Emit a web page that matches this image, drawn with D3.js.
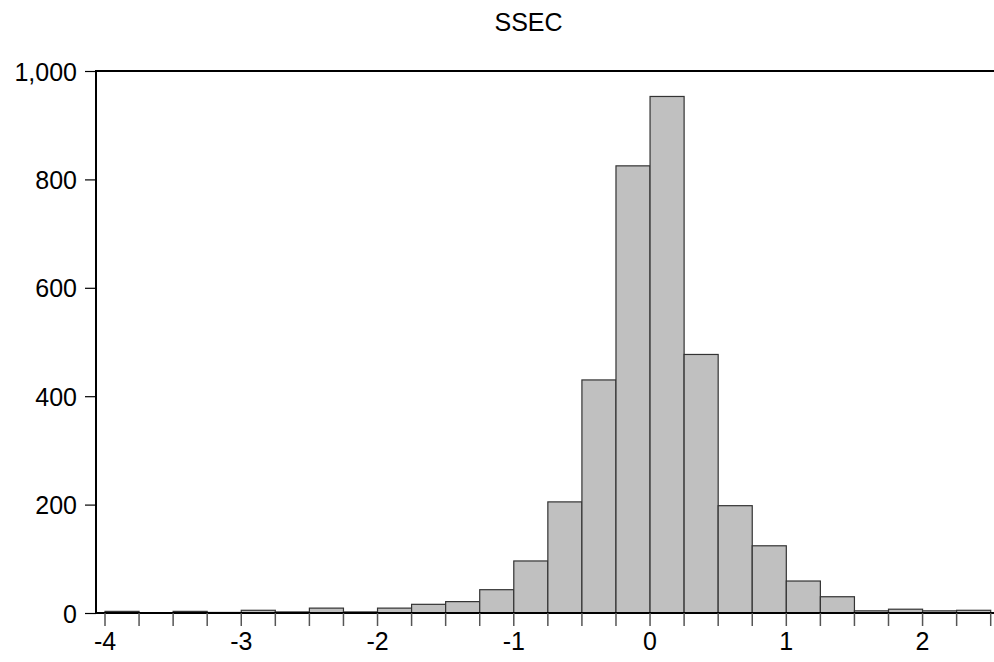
<!DOCTYPE html>
<html>
<head>
<meta charset="utf-8">
<script src="https://cdn.jsdelivr.net/npm/d3@7"></script>
<style>
  body { margin: 0; background: #fff; }
  text { font-family: "Liberation Sans", Arial, sans-serif; fill: #000; }
</style>
</head>
<body>
<svg id="chart" width="994" height="662"></svg>
<script>
// histogram bins: left edges, width 0.25
var binStart = -4;
var binWidth = 0.25;
var counts = [3, 0, 3, 1, 5, 2, 9, 2, 9, 16, 21, 43, 96, 205, 430, 825, 953, 477, 198, 124, 59, 30, 4, 7, 4, 5];
var yTicks = [0, 200, 400, 600, 800, 1000];
var xTicks = [-4, -3, -2, -1, 0, 1, 2];
var title = "SSEC";

(function () {
  var svg = d3.select("#chart");
  var plotLeft = 96, plotRight = 994, plotTop = 71, plotBottom = 613;
  var fontSize = "25px";

  var x = d3.scaleLinear().domain([-4, 2.5]).range([105, 990.7]);
  var y = d3.scaleLinear().domain([0, 1000]).range([plotBottom, plotTop]);

  var bins = counts.map(function (c, i) {
    return { x0: binStart + i * binWidth, x1: binStart + (i + 1) * binWidth, n: c };
  });

  // bars
  svg.append("g").selectAll("rect").data(bins).enter().append("rect")
    .attr("x", function (d) { return x(d.x0); })
    .attr("width", function (d) { return x(d.x1) - x(d.x0); })
    .attr("y", function (d) { return y(d.n); })
    .attr("height", function (d) { return plotBottom - y(d.n); })
    .style("fill", "#c0c0c0")
    .style("stroke", "#333")
    .style("stroke-width", 1.2);

  // frame: left axis, top and bottom lines
  svg.append("line").attr("x1", plotLeft).attr("x2", plotLeft).attr("y1", plotTop).attr("y2", plotBottom)
    .style("stroke", "#000").style("stroke-width", 2);
  svg.append("line").attr("x1", plotLeft - 1).attr("x2", plotRight).attr("y1", plotTop).attr("y2", plotTop)
    .style("stroke", "#000").style("stroke-width", 2);
  svg.append("line").attr("x1", plotLeft - 1).attr("x2", plotRight).attr("y1", plotBottom).attr("y2", plotBottom)
    .style("stroke", "#000").style("stroke-width", 2);

  // y axis
  var yAxis = d3.axisLeft(y).tickValues(yTicks).tickSize(11).tickPadding(8)
    .tickFormat(d3.format(","));
  var gy = svg.append("g").attr("transform", "translate(" + plotLeft + ",0)").call(yAxis);
  gy.select(".domain").remove();
  gy.selectAll(".tick line").style("stroke", "#000").style("stroke-width", 1.2);
  gy.selectAll(".tick text").style("font-size", fontSize).attr("dy", "0.36em")
    .style("font-family", "'Liberation Sans', Arial, sans-serif");

  // x axis: minor ticks at every bin edge, labels on integers
  var edges = d3.range(counts.length + 1).map(function (i) { return binStart + i * binWidth; });
  svg.append("g").selectAll("line").data(edges).enter().append("line")
    .attr("x1", function (d) { return x(d); })
    .attr("x2", function (d) { return x(d); })
    .attr("y1", plotBottom)
    .attr("y2", plotBottom + 13)
    .style("stroke", "#555")
    .style("stroke-width", 1.5);
  svg.append("g").selectAll("text").data(xTicks).enter().append("text")
    .attr("x", function (d) { return x(d); })
    .attr("y", 650)
    .attr("text-anchor", "middle")
    .style("font-size", fontSize)
    .text(function (d) { return d; });

  // title
  svg.append("text").attr("x", 528.5).attr("y", 31)
    .attr("text-anchor", "middle")
    .style("font-size", fontSize)
    .text(title);
})();
</script>
</body>
</html>
